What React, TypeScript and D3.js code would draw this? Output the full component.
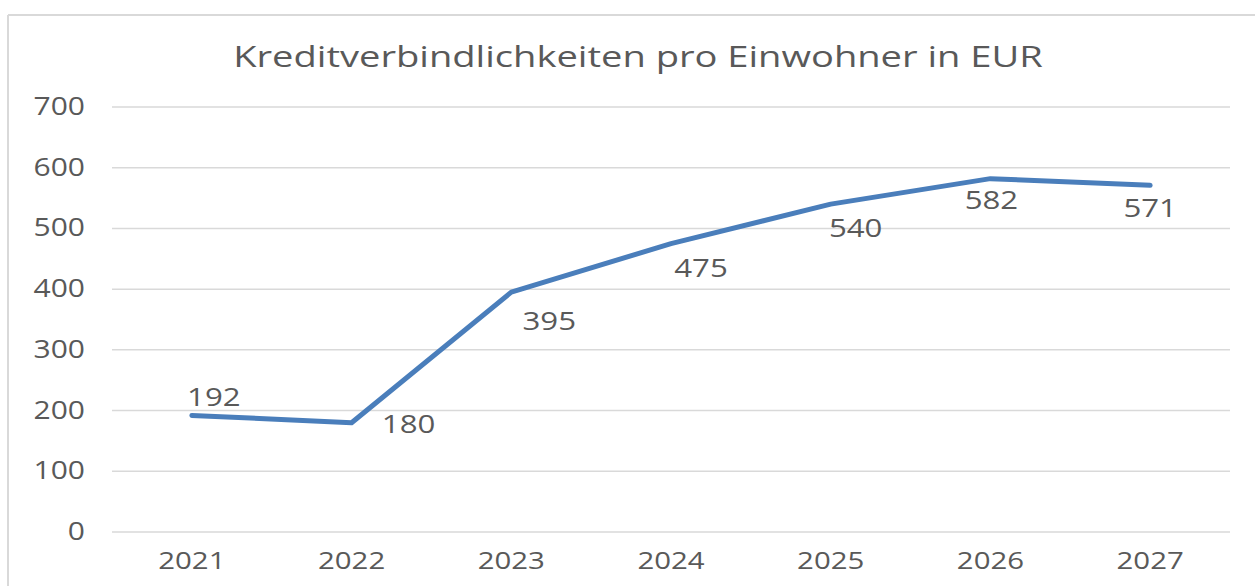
import { useEffect } from "react";
import * as d3 from "d3";

const years = ["2021", "2022", "2023", "2024", "2025", "2026", "2027"];
const values = [192, 180, 395, 475, 540, 582, 571];
const yTicks = [0, 100, 200, 300, 400, 500, 600, 700];
// label placement relative to point (dx, baseline dy), as in the source
const labelOffsets: [number, number][] = [
  [22, -9],
  [57, 10],
  [38, 38],
  [30, 33],
  [25, 33],
  [1, 30],
  [0, 32],
];

const W = 1255;
const H = 586;
const M = { top: 107, right: 25, bottom: 54, left: 112 };
const SX = 1.2; // source text is horizontally stretched
const TEXT = "#595959";
const GRID = "#d9d9d9";
const LINE = "#4A7EBB";
const FONT = "'Open Sans', 'Noto Sans', sans-serif";

export default function App() {
  useEffect(() => {
    document.body.style.margin = "0";
  }, []);

  const x = d3
    .scaleBand()
    .domain(years)
    .range([M.left, W - M.right]);
  const y = d3
    .scaleLinear()
    .domain([0, 700])
    .range([H - M.bottom, M.top]);

  const cx = (i: number) => (x(years[i]) ?? 0) + x.bandwidth() / 2;

  const line = d3
    .line<number>()
    .x((_, i) => cx(i))
    .y((d) => y(d));

  return (
    <svg width={W} height={H} style={{ display: "block" }} fontFamily={FONT}>
      <rect width={W} height={H} fill="#fff" />
      <line x1={8} x2={W} y1={15} y2={15} stroke={GRID} strokeWidth={2} />
      <line x1={8} x2={8} y1={15} y2={H} stroke={GRID} strokeWidth={2} />

      <text
        transform={`translate(${638},${67}) scale(1.27,1)`}
        textAnchor="middle"
        fontSize={30}
        fill={TEXT}
      >
        Kreditverbindlichkeiten pro Einwohner in EUR
      </text>

      {yTicks.map((t) => (
        <g key={t}>
          <line
            x1={M.left}
            x2={W - M.right}
            y1={y(t)}
            y2={y(t)}
            stroke={GRID}
            strokeWidth={1.5}
          />
          <text
            transform={`translate(${85},${y(t) + 8}) scale(${SX},1)`}
            textAnchor="end"
            fontSize={25}
            fill={TEXT}
          >
            {t}
          </text>
        </g>
      ))}

      {years.map((yr, i) => (
        <text
          key={yr}
          transform={`translate(${cx(i)},${569}) scale(${SX},1)`}
          textAnchor="middle"
          fontSize={24.5}
          fill={TEXT}
        >
          {yr}
        </text>
      ))}

      <path
        d={line(values) ?? ""}
        fill="none"
        stroke={LINE}
        strokeWidth={5}
        strokeLinejoin="round"
        strokeLinecap="round"
      />

      {values.map((v, i) => (
        <text
          key={i}
          transform={`translate(${cx(i) + labelOffsets[i][0]},${y(v) + labelOffsets[i][1]}) scale(${SX},1)`}
          textAnchor="middle"
          fontSize={26}
          fill={TEXT}
        >
          {v}
        </text>
      ))}
    </svg>
  );
}
